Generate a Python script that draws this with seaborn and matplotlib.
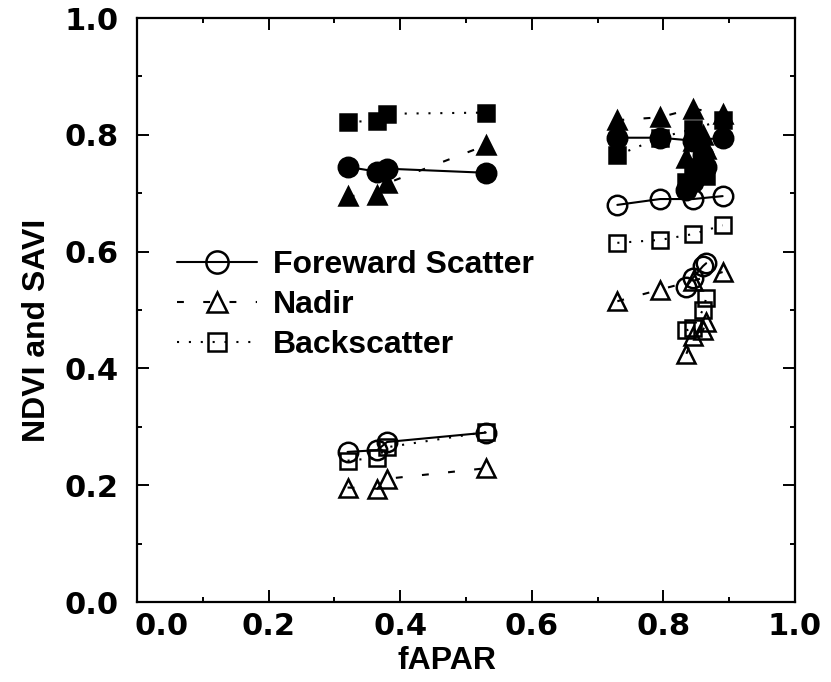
import matplotlib
matplotlib.use("Agg")
import matplotlib.pyplot as plt
import matplotlib.transforms as mtransforms
from matplotlib.font_manager import FontProperties
from matplotlib.lines import Line2D
import pandas as pd
import seaborn as sns

# fAPAR of the observation dates, three groups of four dates
fapar_low = [0.32, 0.365, 0.38, 0.53]
fapar_high = [0.73, 0.795, 0.845, 0.89]
fapar_peak = [0.835, 0.845, 0.86, 0.865]

# NDVI (filled symbols) per view direction
ndvi_fwd_low = [0.745, 0.737, 0.742, 0.735]
ndvi_nad_low = [0.695, 0.697, 0.717, 0.782]
ndvi_bck_low = [0.822, 0.824, 0.836, 0.838]
ndvi_fwd_high = [0.795, 0.795, 0.790, 0.795]
ndvi_nad_high = [0.825, 0.830, 0.845, 0.835]
ndvi_bck_high = [0.765, 0.795, 0.810, 0.825]
ndvi_fwd_peak = [0.705, 0.720, 0.765, 0.745]
ndvi_nad_peak = [0.760, 0.790, 0.800, 0.775]
ndvi_bck_peak = [0.720, 0.745, 0.755, 0.730]

# SAVI (open symbols) per view direction
savi_fwd_low = [0.257, 0.260, 0.274, 0.290]
savi_nad_low = [0.196, 0.194, 0.211, 0.229]
savi_bck_low = [0.242, 0.247, 0.265, 0.291]
savi_fwd_high = [0.680, 0.690, 0.690, 0.695]
savi_nad_high = [0.515, 0.535, 0.550, 0.565]
savi_bck_high = [0.615, 0.620, 0.630, 0.645]
savi_fwd_peak = [0.540, 0.555, 0.575, 0.580]
savi_nad_peak = [0.425, 0.455, 0.465, 0.480]
savi_bck_peak = [0.465, 0.470, 0.500, 0.520]

views = ["Foreward Scatter", "Nadir", "Backscatter"]
tick_values = [0.0, 0.2, 0.4, 0.6, 0.8, 1.0]
tick_labels = ["0.0", "0.2", "0.4", "0.6", "0.8", "1.0"]

series = {
    ("NDVI", "Foreward Scatter"): [ndvi_fwd_low, ndvi_fwd_high, ndvi_fwd_peak],
    ("NDVI", "Nadir"): [ndvi_nad_low, ndvi_nad_high, ndvi_nad_peak],
    ("NDVI", "Backscatter"): [ndvi_bck_low, ndvi_bck_high, ndvi_bck_peak],
    ("SAVI", "Foreward Scatter"): [savi_fwd_low, savi_fwd_high, savi_fwd_peak],
    ("SAVI", "Nadir"): [savi_nad_low, savi_nad_high, savi_nad_peak],
    ("SAVI", "Backscatter"): [savi_bck_low, savi_bck_high, savi_bck_peak],
}
groups = [("low", fapar_low), ("high", fapar_high), ("peak", fapar_peak)]

rows = []
for (index, view), per_group in series.items():
    for (gname, fx), vals in zip(groups, per_group):
        for f, v in zip(fx, vals):
            rows.append({"index": index, "view": view, "group": gname,
                         "fAPAR": f, "value": v})
df = pd.DataFrame(rows)

sns.set_style("ticks")
plt.rcParams["font.family"] = ["DejaVu Sans"]
plt.rcParams["text.color"] = "black"
plt.rcParams["axes.labelcolor"] = "black"
plt.rcParams["xtick.color"] = "black"
plt.rcParams["ytick.color"] = "black"

LW = 1.5
styles = {
    "Foreward Scatter": dict(marker="o", ms=14, ls="-"),
    "Nadir": dict(marker="^", ms=13, ls=(0, (3.3, 9.3))),
    "Backscatter": dict(marker="s", ms=11, ls=(0, (1.0, 4.7))),
}

fig = plt.figure(figsize=(8.31, 6.82), dpi=100)
ax = fig.add_axes([137 / 831, 1 - 602 / 682, 658 / 831, 584 / 682])

for index in ["SAVI", "NDVI"]:
    filled = index == "NDVI"
    for view in views:
        st = styles[view]
        sub = df[(df["index"] == index) & (df["view"] == view)]
        sns.lineplot(
            data=sub, x="fAPAR", y="value", units="group", estimator=None,
            ax=ax, color="black", lw=LW, linestyle=st["ls"],
            marker=st["marker"], markersize=st["ms"],
            markerfacecolor="black" if filled else "none",
            markeredgecolor="black", markeredgewidth=1.8,
            legend=False,
        )

ax.set_xlim(0, 1)
ax.set_ylim(0, 1)
ax.set_xticks(tick_values)
ax.set_yticks(tick_values)
ax.set_xticks([0.1, 0.3, 0.5, 0.7, 0.9], minor=True)
ax.set_yticks([0.1, 0.3, 0.5, 0.7, 0.9], minor=True)
tick_font = FontProperties(family="DejaVu Sans", weight="bold", size=22)
ax.set_xticklabels(tick_labels, fontproperties=tick_font)
ax.set_yticklabels(tick_labels, fontproperties=tick_font)
ax.tick_params(which="both", direction="in", top=True, right=True,
               width=1.4, color="black", labelcolor="black")
ax.tick_params(which="major", length=8.6)
ax.tick_params(which="minor", length=3.6)
ax.tick_params(axis="x", which="major", pad=7)
ax.tick_params(axis="y", which="major", pad=13)
for sp in ax.spines.values():
    sp.set_linewidth(1.6)
    sp.set_color("black")

# the 0.0 of the fAPAR axis sits a little to the right of the corner
first = ax.get_xticklabels()[0]
first.set_transform(first.get_transform()
                    + mtransforms.ScaledTranslation(0.25, 0, fig.dpi_scale_trans))

label_font = FontProperties(family=["Liberation Sans", "DejaVu Sans"],
                            weight="bold", size=23)
ax.set_xlabel("fAPAR", fontproperties=label_font, color="black")
ax.set_ylabel("NDVI and SAVI", fontproperties=label_font, color="black")
ax.xaxis.set_label_coords((447 - 137) / 658, (602 - 646) / 584)
ax.yaxis.set_label_coords((52 - 137) / 658, (602 - 330) / 584)

handles = [
    Line2D([], [], color="black", lw=LW, linestyle=styles[v]["ls"],
           marker=styles[v]["marker"],
           markersize={"Foreward Scatter": 16, "Nadir": 14, "Backscatter": 13}[v],
           markerfacecolor="none", markeredgecolor="black", markeredgewidth=1.8)
    for v in views
]
leg = ax.legend(handles, views, loc="upper left",
                bbox_to_anchor=(177 / 831, 1 - 250 / 682),
                bbox_transform=fig.transFigure, frameon=False, numpoints=1,
                handlelength=2.5, handletextpad=0.5, labelspacing=0.32,
                borderpad=0, borderaxespad=0, prop=label_font)
for t in leg.get_texts():
    t.set_color("black")

fig.savefig("out.png", dpi=100)
